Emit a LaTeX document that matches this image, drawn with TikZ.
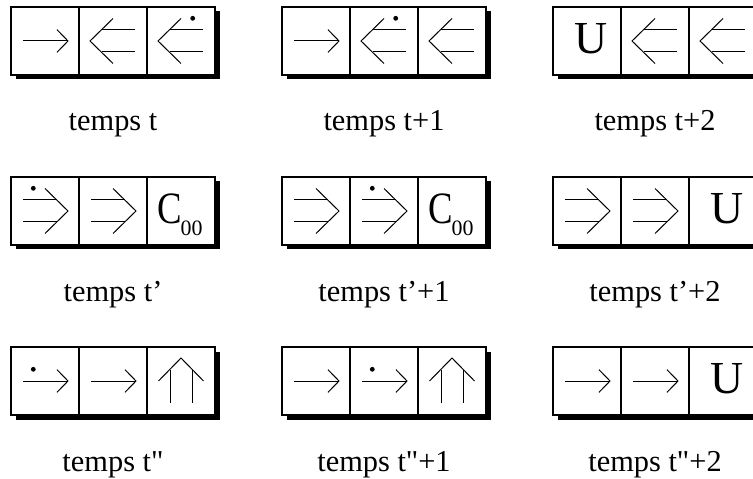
\documentclass[tikz,border=0pt]{standalone}
\usepackage{fontspec}
\setmainfont{Liberation Serif}[Ligatures=TeXOff]
\tikzset{
  boxline/.style={line width=1.4bp},
  glyph/.style={line width=1bp, line cap=butt, line join=miter},
  sgl/.pic={\draw[glyph] (-22,0)--(23,0); \draw[glyph] (12,-11.3)--(23,0)--(12,11.3);},
  dbl/.pic={\draw[glyph] (-22,-11)--(11.5,-11); \draw[glyph] (-22,11)--(11.5,11); \draw[glyph] (0,-22.5)--(23,0)--(0,22.5);},
  sgldot/.pic={\fill (-11.7,-11.7) circle (2.4);},
  dbldot/.pic={\fill (-11.7,-22.7) circle (2.4);},
  lbl/.style={anchor=base, inner sep=0pt, font=\fontsize{30.5}{36}\selectfont},
  bigletter/.style={anchor=base, inner sep=0pt, font=\fontsize{46}{46}\selectfont},
  cletter/.style={anchor=base west, inner sep=0pt, font=\fontsize{45}{45}\selectfont},
  subdigits/.style={anchor=base west, inner sep=0pt, font=\fontsize{22}{22}\selectfont},
}
\begin{document}
\begin{tikzpicture}[x=1bp,y=-1bp]
\useasboundingbox (0,0) rectangle (753,479);
% boxes with shadows
\foreach \L in {11,282,553}{
  \foreach \T in {7,177,347}{
    \fill (\L+4.5,\T+4.5) rectangle +(204,68);
    \draw[boxline,fill=white] (\L,\T) rectangle +(204,68);
    \draw[boxline] (\L+68,\T) -- +(0,68);
    \draw[boxline] (\L+136,\T) -- +(0,68);
  }
}
% row 1
\pic at (45,41) {sgl};
\pic[xscale=-1] at (113,41) {dbl};
\pic[xscale=-1] at (181,41) {dbl};
\pic[xscale=-1] at (181,41) {dbldot};
\pic at (316,41) {sgl};
\pic[xscale=-1] at (384,41) {dbl};
\pic[xscale=-1] at (384,41) {dbldot};
\pic[xscale=-1] at (452,41) {dbl};
\node[bigletter] (u1) at (591.5,53.5) {U};
\pic[xscale=-1] at (655,41) {dbl};
\pic[xscale=-1] at (723,41) {dbl};
% row 2
\pic at (45,211) {dbl};
\pic at (45,211) {dbldot};
\pic at (113,211) {dbl};
\node[cletter] (c1) at (157.5,224) {\scalebox{0.82}[1]{C}};
\node[subdigits] (c1s) at (180.5,236) {00};
\pic at (316,211) {dbl};
\pic at (384,211) {dbl};
\pic at (384,211) {dbldot};
\node[cletter] (c2) at (428.5,224) {\scalebox{0.82}[1]{C}};
\node[subdigits] (c2s) at (451.5,236) {00};
\pic at (587,211) {dbl};
\pic at (655,211) {dbl};
\node[bigletter] (u2) at (727.5,224) {U};
% row 3
\pic at (45,381) {sgl};
\pic at (45,381) {sgldot};
\pic at (113,381) {sgl};
\pic[rotate=90] at (181,381) {dbl};
\pic at (316,381) {sgl};
\pic at (384,381) {sgl};
\pic at (384,381) {sgldot};
\pic[rotate=90] at (452,381) {dbl};
\pic at (587,381) {sgl};
\pic at (655,381) {sgl};
\node[bigletter] (u3) at (727.5,393.5) {U};
% labels
\node[lbl] (l11) at (113,131) {temps t};
\node[lbl] (l12) at (384,131) {temps t+1};
\node[lbl] (l13) at (655,131) {temps t+2};
\node[lbl] (l21) at (113,301.5) {temps t’};
\node[lbl] (l22) at (384,301.5) {temps t’+1};
\node[lbl] (l23) at (655,301.5) {temps t’+2};
\node[lbl] (l31) at (113,471) {temps t"};
\node[lbl] (l32) at (384,471) {temps t"+1};
\node[lbl] (l33) at (655,471) {temps t"+2};
\end{tikzpicture}
\end{document}
